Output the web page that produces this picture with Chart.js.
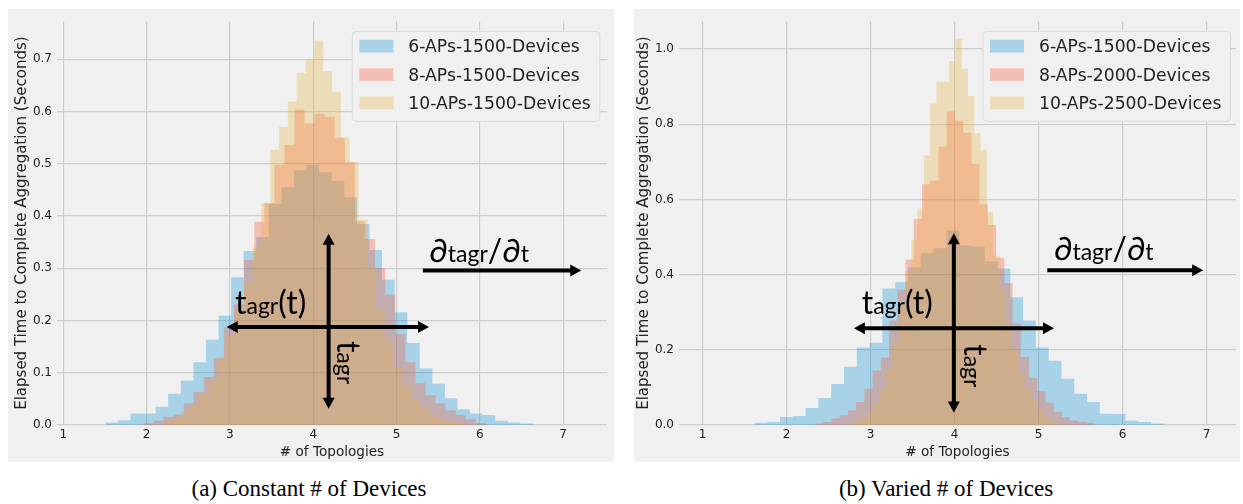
<!DOCTYPE html>
<html lang="en">
<head>
<meta charset="utf-8">
<title>Elapsed time to complete aggregation</title>
<script src="https://cdn.jsdelivr.net/npm/chart.js@4.4.1/dist/chart.umd.min.js"></script>
<style>
  html, body { margin: 0; padding: 0; background: #ffffff; }
  body { position: relative; width: 1243px; height: 504px; overflow: hidden; }
  .panel { position: absolute; top: 9px; width: 606px; height: 453px; background: #f0f0f0; }
  .panel canvas { display: block; }
  .caption { position: absolute; top: 477px; font-family: "Liberation Serif", "Times New Roman", serif;
             font-size: 23px; line-height: 23px; color: #000; white-space: nowrap; transform: translateX(-50%); }
</style>
</head>
<body>
<div class="panel" style="left:8px"><canvas id="chartA" width="606" height="453"></canvas></div>
<div class="panel" style="left:634px"><canvas id="chartB" width="606" height="453"></canvas></div>
<div class="caption" style="left:309px">(a) Constant # of Devices</div>
<div class="caption" style="left:946px">(b) Varied # of Devices</div>
<script>
// ---- data: histogram bin ranges [first edge, last edge] and density per bin ----
const xTicks = [1, 2, 3, 4, 5, 6, 7];
const yTicksA = [0, 0.1, 0.2, 0.3, 0.4, 0.5, 0.6, 0.7];
const yTicksB = [0, 0.2, 0.4, 0.6, 0.8, 1.0];

const labelsA = ['6-APs-1500-Devices', '8-APs-1500-Devices', '10-APs-1500-Devices'];
const labelsB = ['6-APs-1500-Devices', '8-APs-2000-Devices', '10-APs-2500-Devices'];

// (a) constant number of devices
const rangeA6 = [1.504, 6.638];
const densityA6 = [0.005, 0.009, 0.022, 0.022, 0.035, 0.060, 0.085, 0.120, 0.163, 0.209,
                   0.283, 0.333, 0.360, 0.423, 0.455, 0.487, 0.498, 0.484, 0.467, 0.436,
                   0.385, 0.335, 0.278, 0.216, 0.157, 0.108, 0.079, 0.051, 0.030, 0.022,
                   0.019, 0.008, 0.005, 0.003];
const rangeA8 = [1.960, 6.074];
const densityA8 = [0.004, 0.008, 0.016, 0.020, 0.042, 0.063, 0.092, 0.128, 0.187, 0.231,
                   0.316, 0.389, 0.425, 0.498, 0.536, 0.604, 0.577, 0.596, 0.590, 0.550,
                   0.503, 0.390, 0.356, 0.300, 0.250, 0.174, 0.120, 0.080, 0.057, 0.041,
                   0.028, 0.019, 0.011, 0.004];
const rangeA10 = [2.212, 5.816];
const densityA10 = [0.007, 0.015, 0.025, 0.040, 0.060, 0.085, 0.130, 0.170, 0.220, 0.270,
                    0.340, 0.424, 0.527, 0.571, 0.619, 0.674, 0.699, 0.736, 0.677, 0.638,
                    0.550, 0.503, 0.393, 0.300, 0.220, 0.160, 0.110, 0.075, 0.050, 0.032,
                    0.020, 0.012, 0.006, 0.003];

// (b) number of devices grows with the number of APs
const rangeB6 = [1.616, 6.490];
const densityB6 = [0.006, 0.008, 0.021, 0.024, 0.045, 0.072, 0.109, 0.155, 0.206, 0.219,
                   0.363, 0.380, 0.419, 0.457, 0.470, 0.517, 0.477, 0.475, 0.435, 0.416,
                   0.340, 0.278, 0.206, 0.171, 0.123, 0.083, 0.061, 0.030, 0.029, 0.012,
                   0.008, 0.004];
const rangeB8 = [2.337, 5.669];
const densityB8 = [0.004, 0.008, 0.017, 0.026, 0.039, 0.061, 0.096, 0.145, 0.179, 0.277,
                   0.360, 0.440, 0.548, 0.640, 0.650, 0.741, 0.834, 0.809, 0.777, 0.695,
                   0.587, 0.532, 0.444, 0.378, 0.270, 0.181, 0.125, 0.090, 0.059, 0.035,
                   0.021, 0.012, 0.008, 0.005];
const rangeB10 = [2.732, 5.285];
const densityB10 = [0.004, 0.010, 0.020, 0.035, 0.060, 0.095, 0.150, 0.220, 0.320, 0.409,
                    0.492, 0.576, 0.717, 0.855, 0.913, 0.913, 0.968, 1.027, 0.948, 0.875,
                    0.776, 0.732, 0.567, 0.450, 0.360, 0.270, 0.200, 0.140, 0.100, 0.065,
                    0.040, 0.022, 0.012, 0.005];

// ---- styling ----
const FILLS = ['rgba(0,143,213,0.3)', 'rgba(252,79,48,0.3)', 'rgba(229,174,56,0.3)'];
const TEXT = '#222222';
const GRID = '#cdcdcd';
const BIG = '32px Lato, "Noto Sans", sans-serif';
const SMALL = '23px Lato, "Noto Sans", sans-serif';
Chart.defaults.font.family = '"DejaVu Sans", sans-serif';

// equal-width bins: one point per left edge, plus the closing right edge
function stepPoints(range, heights) {
  const n = heights.length;
  const w = (range[1] - range[0]) / n;
  const pts = heights.map((h, i) => ({ x: range[0] + i * w, y: h }));
  pts.push({ x: range[1], y: heights[n - 1] });
  return pts;
}

function arrowHead(ctx, tx, ty, dx, dy) {
  const len = 11, half = 6;
  ctx.beginPath();
  ctx.moveTo(tx, ty);
  ctx.lineTo(tx - dx * len - dy * half, ty - dy * len + dx * half);
  ctx.lineTo(tx - dx * len + dy * half, ty - dy * len - dx * half);
  ctx.closePath();
  ctx.fill();
}

function arrow(ctx, x0, y0, x1, y1, both) {
  const L = Math.hypot(x1 - x0, y1 - y0);
  const dx = (x1 - x0) / L, dy = (y1 - y0) / L;
  const cut = 8;
  ctx.beginPath();
  ctx.moveTo(both ? x0 + dx * cut : x0, both ? y0 + dy * cut : y0);
  ctx.lineTo(x1 - dx * cut, y1 - dy * cut);
  ctx.stroke();
  arrowHead(ctx, x1, y1, dx, dy);
  if (both) arrowHead(ctx, x0, y0, -dx, -dy);
}

function drawRuns(ctx, runs, x, y) {
  for (const [txt, font] of runs) {
    ctx.font = font;
    ctx.fillText(txt, x, y);
    x += ctx.measureText(txt).width;
  }
}

// framed legend in the upper right corner of the plot area
function makeLegend(cfg) {
  return {
    id: 'boxLegend',
    afterDatasetsDraw(chart) {
      const ctx = chart.ctx, ca = chart.chartArea;
      const items = chart.data.datasets;
      ctx.save();
      ctx.font = cfg.fontSize + 'px "DejaVu Sans", sans-serif';
      const textW = Math.max(...items.map(d => ctx.measureText(d.label).width));
      const w = cfg.padLeft + cfg.patchW + cfg.gap + textW + cfg.padRight;
      const h = cfg.padTop + cfg.rowStep * (items.length - 1) + cfg.padBottom;
      const right = ca.right - cfg.right;
      const left = right - w;
      const top = ca.top + cfg.top;
      ctx.beginPath();
      ctx.roundRect(left + 0.5, top + 0.5, w, h, 4);
      ctx.fillStyle = '#f0f0f0';
      ctx.fill();
      ctx.strokeStyle = '#dadada';
      ctx.lineWidth = 1;
      ctx.stroke();
      ctx.textBaseline = 'alphabetic';
      items.forEach((d, i) => {
        const cy = top + cfg.padTop + i * cfg.rowStep;
        ctx.fillStyle = '#f0f0f0';
        ctx.fillRect(left + cfg.padLeft, cy - cfg.patchH / 2, cfg.patchW, cfg.patchH);
        ctx.fillStyle = d.backgroundColor;
        ctx.fillRect(left + cfg.padLeft, cy - cfg.patchH / 2, cfg.patchW, cfg.patchH);
        ctx.fillStyle = TEXT;
        ctx.fillText(d.label, left + cfg.padLeft + cfg.patchW + cfg.gap, cy + 0.365 * cfg.fontSize);
      });
      ctx.restore();
    }
  };
}

// arrows and symbols placed in data coordinates
function makeNotes(n) {
  return {
    id: 'crossNotes',
    afterDatasetsDraw(chart) {
      const { ctx, scales: { x, y } } = chart;
      const px = v => x.getPixelForValue(v), py = v => y.getPixelForValue(v);
      ctx.save();
      ctx.fillStyle = '#000';
      ctx.strokeStyle = '#000';
      ctx.lineWidth = 4;
      arrow(ctx, px(n.vx), py(n.vLow), px(n.vx), py(n.vHigh), true);
      arrow(ctx, px(n.hLow), py(n.hy), px(n.hHigh), py(n.hy), true);
      arrow(ctx, px(n.rLow), py(n.ry), px(n.rHigh), py(n.ry), false);
      ctx.textBaseline = 'alphabetic';
      drawRuns(ctx, [['t', BIG], ['agr', SMALL], ['(t)', BIG]], px(n.fx), py(n.fy));
      drawRuns(ctx, [['\u2202', BIG], ['tagr', SMALL], ['/\u2202', BIG], ['t', SMALL]], px(n.dx), py(n.dy));
      ctx.translate(px(n.sx), py(n.sy));
      ctx.rotate(Math.PI / 2);
      drawRuns(ctx, [['t', BIG], ['agr', SMALL]], 0, 0);
      ctx.restore();
    }
  };
}

function buildPanel(p) {
  const datasets = p.series.map((s, i) => ({
    label: s.label,
    data: stepPoints(s.range, s.heights),
    stepped: true,
    fill: 'origin',
    backgroundColor: FILLS[i],
    borderColor: 'rgba(0,0,0,0)',
    borderWidth: 0,
    pointRadius: 0,
    pointHoverRadius: 0,
    order: p.series.length - i
  }));
  const grid = { color: GRID, lineWidth: 1.2, drawTicks: false };
  return new Chart(document.getElementById(p.canvas), {
    type: 'line',
    data: { datasets },
    options: {
      responsive: false,
      animation: false,
      devicePixelRatio: 1,
      events: [],
      layout: { padding: { left: 0, top: p.area.top, right: p.area.right, bottom: 0 } },
      plugins: { legend: { display: false }, tooltip: { enabled: false } },
      scales: {
        x: {
          type: 'linear', min: p.xMin, max: p.xMax,
          afterBuildTicks: s => { s.ticks = xTicks.map(v => ({ value: v })); },
          afterFit: s => { s.height = p.area.bottom; },
          grid, border: { display: false },
          ticks: { color: TEXT, font: { size: 12 }, padding: 3, autoSkip: false, maxRotation: 0,
                   callback: v => String(v) },
          title: { display: true, text: '# of Topologies', color: TEXT, font: { size: 13.6 },
                   padding: { top: 0, bottom: 1.5 } }
        },
        y: {
          type: 'linear', min: 0, max: p.yMax,
          afterBuildTicks: s => { s.ticks = p.yTicks.map(v => ({ value: v })); },
          afterFit: s => { s.width = p.area.left; },
          grid, border: { display: false },
          ticks: { color: TEXT, font: { size: 12 }, padding: 5, autoSkip: false,
                   callback: v => Number(v).toFixed(1) },
          title: { display: true, text: 'Elapsed Time to Complete Aggregation (Seconds)', color: TEXT,
                   font: { size: 15 }, padding: { top: p.yTitlePad, bottom: 0 } }
        }
      }
    },
    plugins: [makeLegend(p.legend), makeNotes(p.notes)]
  });
}

const legendBase = { fontSize: 17.2, padLeft: 7.6, patchW: 34, patchH: 12.7, gap: 15, padRight: 8.6,
                     padTop: 15.3, rowStep: 28.3, padBottom: 18.1, top: 9.7 };

buildPanel({
  canvas: 'chartA',
  series: [
    { label: labelsA[0], range: rangeA6, heights: densityA6 },
    { label: labelsA[1], range: rangeA8, heights: densityA8 },
    { label: labelsA[2], range: rangeA10, heights: densityA10 }
  ],
  xMin: 0.924, xMax: 7.527, yMax: 0.773, yTicks: yTicksA,
  area: { left: 49, right: 7, top: 8, bottom: 37 }, yTitlePad: 5,
  legend: Object.assign({}, legendBase, { right: 7.7 }),
  notes: { vx: 4.185, vLow: 0.031, vHigh: 0.366, hy: 0.1876, hLow: 2.962, hHigh: 5.39,
           ry: 0.296, rLow: 5.316, rHigh: 7.218, fx: 3.061, fy: 0.2117, dx: 5.394, dy: 0.3127,
           sx: 4.29, sy: 0.161 }
});

buildPanel({
  canvas: 'chartB',
  series: [
    { label: labelsB[0], range: rangeB6, heights: densityB6 },
    { label: labelsB[1], range: rangeB8, heights: densityB8 },
    { label: labelsB[2], range: rangeB10, heights: densityB10 }
  ],
  xMin: 0.718, xMax: 7.349, yMax: 1.074, yTicks: yTicksB,
  area: { left: 45, right: 4, top: 8, bottom: 37 }, yTitlePad: 1,
  legend: Object.assign({}, legendBase, { right: 6 }),
  notes: { vx: 3.99, vLow: 0.033, vHigh: 0.51, hy: 0.257, hLow: 2.80, hHigh: 5.182,
           ry: 0.4114, rLow: 5.102, rHigh: 6.958, fx: 2.893, fy: 0.2943, dx: 5.182, dy: 0.4396,
           sx: 4.11, sy: 0.215 }
});
</script>
</body>
</html>
